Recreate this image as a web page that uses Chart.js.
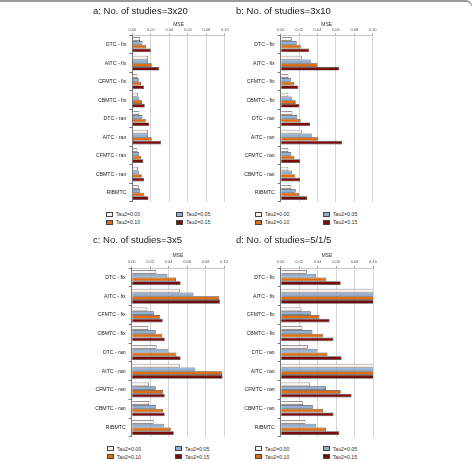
<!DOCTYPE html>
<html>
<head>
<meta charset="utf-8">
<script src="https://cdn.jsdelivr.net/npm/chart.js@4.4.1/dist/chart.umd.min.js"></script>
<style>
  html, body { margin: 0; padding: 0; background: #fff; }
  body { width: 474px; height: 461px; position: relative; overflow: hidden; font-family: "Liberation Sans", Arial, sans-serif; }
  #frame { position: absolute; left: 0; top: 0; width: 472px; height: 6px; border-top: 2px solid #9a9a9a; border-right: 1.5px solid #9a9a9a; border-top-right-radius: 6px; box-sizing: border-box; }
  .panel { position: absolute; }
  .legend { position: absolute; font-size: 5.2px; color: #333; white-space: nowrap; }
  .legend .item { position: absolute; line-height: 6px; }
  .legend .box { display: inline-block; width: 5px; height: 3px; border: 0.6px solid #444; vertical-align: middle; margin-right: 3px; margin-top: -1px; }
</style>
</head>
<body>
<div id="frame"></div>

<canvas id="chart-a" class="panel"></canvas>
<canvas id="chart-b" class="panel"></canvas>
<canvas id="chart-c" class="panel"></canvas>
<canvas id="chart-d" class="panel"></canvas>

<div id="legend-a" class="legend"></div>
<div id="legend-b" class="legend"></div>
<div id="legend-c" class="legend"></div>
<div id="legend-d" class="legend"></div>

<script>
// categorias (métodos) e séries (tau2)
const categories = ['DTC - fix', 'AITC - fix', 'CFMTC - fix', 'CBMTC - fix', 'DTC - ran', 'AITC - ran', 'CFMTC - ran', 'CBMTC - ran', 'RIBMTC'];
const seriesLabels = ['Tau2=0.00', 'Tau2=0.05', 'Tau2=0.10', 'Tau2=0.15'];
const mseTicks = [0, 0.02, 0.04, 0.06, 0.08, 0.10];

// a: No. of studies=3x20
const a00 = [0.0084, 0.017, 0.0055, 0.006, 0.0076, 0.017, 0.0055, 0.006, 0.007];
const a05 = [0.011, 0.017, 0.007, 0.0076, 0.011, 0.017, 0.0073, 0.0076, 0.0087];
const a10 = [0.015, 0.021, 0.0095, 0.0105, 0.0145, 0.021, 0.0095, 0.0102, 0.013];
const a15 = [0.020, 0.029, 0.0127, 0.0135, 0.0185, 0.031, 0.012, 0.0127, 0.0175];

// b: No. of studies=3x10
const b00 = [0.012, 0.0228, 0.0083, 0.0083, 0.0127, 0.0228, 0.0083, 0.0083, 0.0116];
const b05 = [0.0174, 0.0326, 0.011, 0.012, 0.018, 0.0337, 0.0116, 0.012, 0.0163];
const b10 = [0.0217, 0.040, 0.0149, 0.0163, 0.0217, 0.041, 0.0149, 0.016, 0.020];
const b15 = [0.031, 0.0634, 0.0192, 0.0203, 0.0319, 0.0667, 0.021, 0.021, 0.029];

// c: No. of studies=3x5
const c00 = [0.0266, 0.052, 0.017, 0.018, 0.027, 0.052, 0.0186, 0.019, 0.0237];
const c05 = [0.0387, 0.067, 0.024, 0.026, 0.0398, 0.069, 0.026, 0.0266, 0.0347];
const c10 = [0.048, 0.095, 0.031, 0.033, 0.0485, 0.098, 0.034, 0.034, 0.0423];
const c15 = [0.053, 0.0956, 0.0336, 0.0358, 0.053, 0.0985, 0.0358, 0.0358, 0.0456];

// d: No. of studies=5/1/5 (AITC passa do limite do eixo, fica cortado em 0.10)
const d00 = [0.0283, 0.12, 0.0225, 0.0235, 0.0293, 0.12, 0.0319, 0.0243, 0.0268];
const d05 = [0.0384, 0.14, 0.0326, 0.0344, 0.039, 0.14, 0.049, 0.0348, 0.038];
const d10 = [0.049, 0.17, 0.042, 0.0457, 0.0507, 0.17, 0.065, 0.046, 0.049];
const d15 = [0.065, 0.20, 0.053, 0.0572, 0.066, 0.20, 0.0768, 0.0572, 0.0634];

const fillColors = ['#fbf4ee', '#93b0d4', '#df6e12', '#7a0b0b'];
const FONT = '"Liberation Sans", Arial, sans-serif';

// geometria de cada painel (coordenadas da página)
const panels = [
  { id: 'a', title: 'a: No. of studies=3x20', data: [a00, a05, a10, a15],
    left: 86, top: 0, width: 154, height: 208, titleX: 93, titleY: 11.7,
    zeroX: 132.3, endX: 224.8, mseY: 24.3, plotTop: 35.5, plotBottom: 206.2,
    legX: [105.7, 176], legY: [214.3, 222.3] },
  { id: 'b', title: 'b: No. of studies=3x10', data: [b00, b05, b10, b15],
    left: 231, top: 0, width: 152, height: 208, titleX: 236, titleY: 11.7,
    zeroX: 280.7, endX: 372.7, mseY: 24.3, plotTop: 35.5, plotBottom: 206.2,
    legX: [255, 323], legY: [214.3, 222.3] },
  { id: 'c', title: 'c: No. of studies=3x5', data: [c00, c05, c10, c15],
    left: 86, top: 230, width: 154, height: 213, titleX: 93, titleY: 240.7,
    zeroX: 131.7, endX: 224, mseY: 255.7, plotTop: 268.1, plotBottom: 440.9,
    legX: [106.7, 175], legY: [448.5, 456.5] },
  { id: 'd', title: 'd: No. of studies=5/1/5', data: [d00, d05, d10, d15],
    left: 231, top: 230, width: 152, height: 213, titleX: 236, titleY: 240.7,
    zeroX: 280.7, endX: 373, mseY: 255.7, plotTop: 268.1, plotBottom: 440.9,
    legX: [255, 322.7], legY: [448.5, 456.5] }
];

function buildLegend(p) {
  const el = document.getElementById('legend-' + p.id);
  el.style.left = '0px';
  el.style.top = '0px';
  seriesLabels.forEach((lab, i) => {
    const item = document.createElement('div');
    item.className = 'item';
    item.style.left = p.legX[i % 2] + 'px';
    item.style.top = (p.legY[Math.floor(i / 2)] - 3) + 'px';
    const box = document.createElement('span');
    box.className = 'box';
    box.style.background = fillColors[i];
    item.appendChild(box);
    item.appendChild(document.createTextNode(lab));
    el.appendChild(item);
  });
}

function buildChart(p) {
  const canvas = document.getElementById('chart-' + p.id);
  canvas.style.left = p.left + 'px';
  canvas.style.top = p.top + 'px';
  canvas.width = p.width;
  canvas.height = p.height;
  canvas.style.width = p.width + 'px';
  canvas.style.height = p.height + 'px';

  const padLeft = p.titleX - p.left;
  const padRight = (p.left + p.width) - p.endX;
  const padBottom = (p.top + p.height) - p.plotBottom;
  const titleSize = 9.5;
  const titlePadTop = (p.titleY - p.top) - titleSize * 1.2 / 2;
  const titleBottom = p.titleY + titleSize * 1.2 / 2;
  const xAxisHeight = p.plotTop - titleBottom;
  const msePad = (p.mseY - titleBottom) - 5 * 1.2 / 2;

  new Chart(canvas, {
    type: 'bar',
    data: {
      labels: categories,
      datasets: p.data.map((vals, i) => ({
        label: seriesLabels[i],
        data: vals,
        backgroundColor: fillColors[i],
        borderColor: '#4a4a4a',
        borderWidth: 0.7,
        barPercentage: 1.0,
        categoryPercentage: 0.8
      }))
    },
    options: {
      indexAxis: 'y',
      responsive: false,
      animation: false,
      devicePixelRatio: 1,
      layout: { padding: { left: padLeft, right: padRight, top: 0, bottom: padBottom } },
      plugins: {
        legend: { display: false },
        tooltip: { enabled: false },
        title: {
          display: true,
          text: p.title,
          align: 'start',
          color: '#222',
          font: { family: FONT, size: titleSize, weight: 'normal', lineHeight: 1.2 },
          padding: { top: titlePadTop, bottom: 0 }
        }
      },
      scales: {
        x: {
          position: 'top',
          min: 0,
          max: 0.1,
          afterBuildTicks: (scale) => { scale.ticks = mseTicks.map(v => ({ value: v })); },
          afterFit: (scale) => { scale.height = xAxisHeight; },
          ticks: {
            callback: (v) => Number(v).toFixed(2),
            font: { family: FONT, size: 4 },
            color: '#555',
            padding: 1.5,
            maxRotation: 0
          },
          grid: { color: '#d6d6d6', lineWidth: 1, tickLength: 2, tickColor: '#999' },
          border: { display: true, color: '#c8c8c8' },
          title: {
            display: true,
            text: 'MSE',
            color: '#333',
            font: { family: FONT, size: 5 },
            padding: { top: msePad, bottom: 0 }
          }
        },
        y: {
          afterFit: (scale) => { scale.width = p.zeroX - p.titleX; },
          ticks: {
            font: { family: FONT, size: 5.2 },
            color: '#222',
            padding: 3
          },
          grid: { display: true, drawOnChartArea: false, offset: true, tickLength: 3, color: '#777' },
          border: { display: true, color: '#777', width: 1 }
        }
      }
    }
  });
}

panels.forEach(p => {
  buildChart(p);
  buildLegend(p);
});
</script>
</body>
</html>
